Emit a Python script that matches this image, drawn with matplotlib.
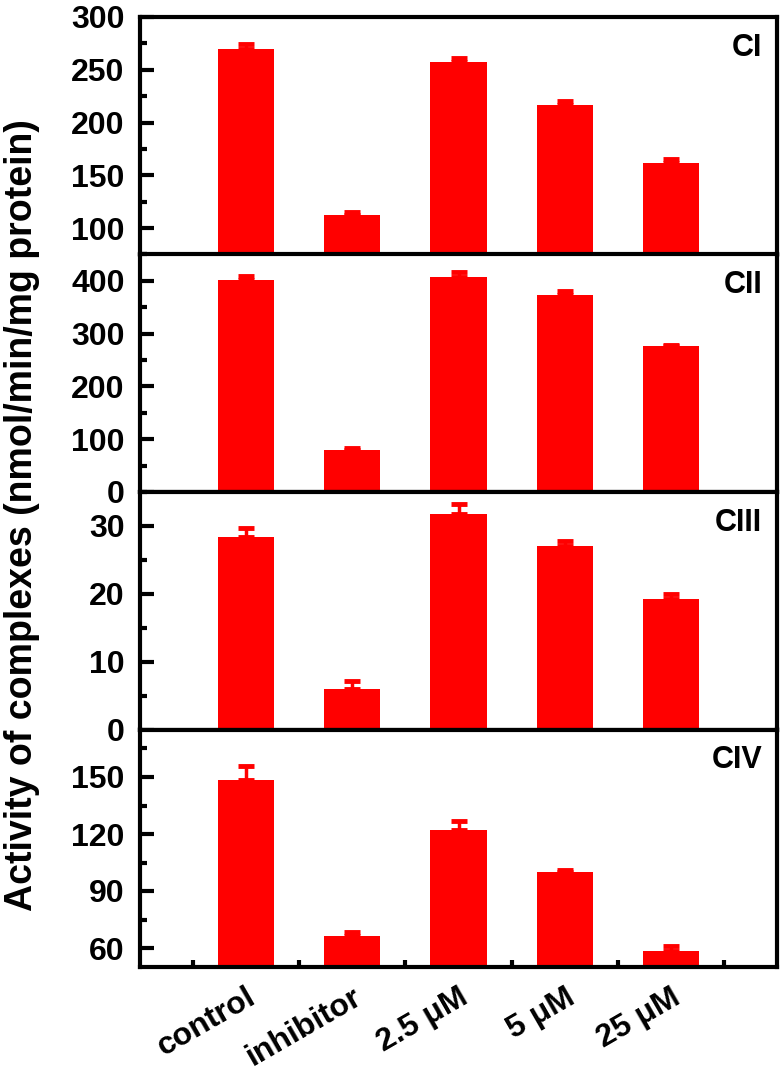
import matplotlib
matplotlib.use("Agg")
import matplotlib.pyplot as plt
from matplotlib.ticker import MultipleLocator, FixedLocator

plt.rcParams['font.family'] = ['Liberation Sans', 'DejaVu Sans']
plt.rcParams['font.weight'] = 'bold'

categories = ["control", "inhibitor", "2.5 \u03bcM", "5 \u03bcM", "25 \u03bcM"]

ci_values = [270, 112, 257, 217, 162]
ci_errors = [4, 3, 4, 3, 3]

cii_values = [401, 79, 408, 374, 276]
cii_errors = [8, 4, 8, 6, 3]

ciii_values = [28.3, 6.0, 31.8, 27.1, 19.3]
ciii_errors = [1.4, 1.1, 1.4, 0.7, 0.6]

civ_values = [148.3, 66.5, 122.0, 99.8, 58.6]
civ_errors = [7.5, 2.0, 5.0, 1.5, 2.3]

panels = [
    ("CI", ci_values, ci_errors, (75, 300), 50),
    ("CII", cii_values, cii_errors, (0, 450), 100),
    ("CIII", ciii_values, ciii_errors, (0, 35), 10),
    ("CIV", civ_values, civ_errors, (50, 175), 30),
]

W, H = 783, 1080
fig = plt.figure(figsize=(W / 100, H / 100), dpi=100)

left, right = 140, 777
top, bottom = 17, 967
ph = (bottom - top) / 4.0
positions = list(range(1, len(categories) + 1))

axes = []
for i, (name, vals, errs, ylim, step) in enumerate(panels):
    y0 = top + i * ph
    ax = fig.add_axes([left / W, 1 - (y0 + ph) / H, (right - left) / W, ph / H])
    ax.bar(positions, vals, width=0.53, color="#ff0000", zorder=2)
    ax.errorbar(positions, vals, yerr=[[0] * len(errs), errs], fmt="none",
                ecolor="#ff0000", elinewidth=2.5, capsize=5.5, capthick=3.5, zorder=2)
    ax.set_xlim(0, 6)
    ax.set_ylim(*ylim)
    ax.yaxis.set_major_locator(MultipleLocator(step))
    ax.yaxis.set_minor_locator(MultipleLocator(step / 2))
    ax.tick_params(axis="y", which="major", direction="in", length=10, width=3,
                   labelsize=23, pad=11)
    ax.tick_params(axis="y", which="minor", direction="in", length=5, width=3)
    for s in ax.spines.values():
        s.set_linewidth(3)
    ax.text(0.977, 0.87, name, transform=ax.transAxes, ha="right", va="center",
            fontsize=22, fontweight="bold")
    axes.append(ax)

for ax in axes[:-1]:
    ax.tick_params(axis="x", which="both", bottom=False, labelbottom=False)
    ax.set_xticks([])

axb = axes[-1]
axb.set_xticks(positions)
axb.set_xticklabels(categories, rotation=30, ha="right", rotation_mode="anchor",
                    fontsize=23, fontweight="bold")
axb.xaxis.set_minor_locator(FixedLocator([p - 0.5 for p in positions] + [5.5]))
axb.tick_params(axis="x", which="major", length=0, pad=11)
axb.tick_params(axis="x", which="minor", direction="in", length=5, width=3)

fig.text(22 / W, 1 - 515 / H, "Activity of complexes (nmol/min/mg protein)",
         rotation=90, ha="center", va="center", fontsize=27, fontweight="bold")

fig.savefig("out.png", dpi=100)
